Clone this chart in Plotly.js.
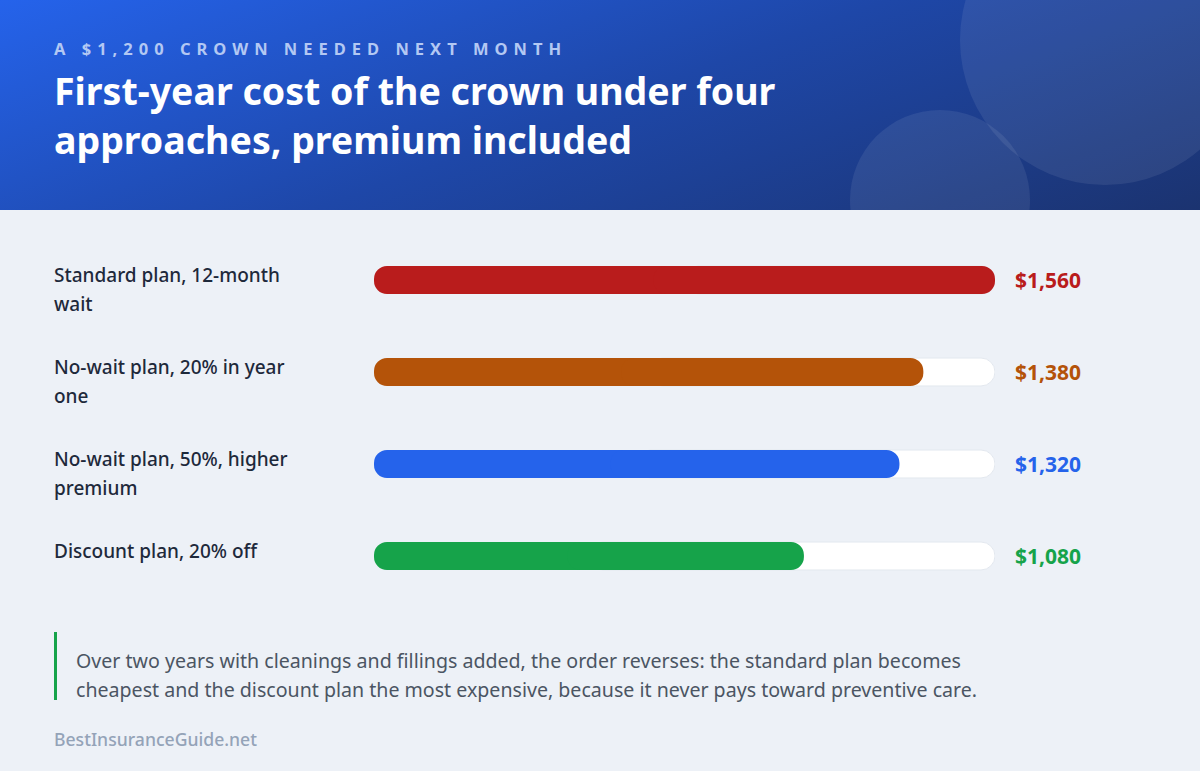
<!DOCTYPE html>
<html>
<head>
<meta charset="utf-8">
<script src="https://cdn.plot.ly/plotly-3.0.1.min.js"></script>
<style>
  html, body { margin: 0; padding: 0; }
  body { width: 1200px; height: 771px; position: relative; overflow: hidden; background: #edf1f7; font-family: "Noto Sans", sans-serif; }
  #header { position: absolute; left: 0; top: 0; width: 1200px; height: 210px; overflow: hidden;
    background: linear-gradient(160deg, #2563eb 0%, #1e47a8 50%, #1b3370 100%); }
  .circle { position: absolute; border-radius: 50%; background: rgba(255,255,255,0.08); }
  #chart { position: absolute; left: 0; top: 0; width: 1200px; height: 771px; }
</style>
</head>
<body>
<div id="header">
  <div class="circle" style="left:960px; top:-105px; width:290px; height:290px;"></div>
  <div class="circle" style="left:850px; top:110px; width:180px; height:180px;"></div>
</div>
<div id="chart"></div>
<script>
// ---- data ----
const eyebrow = "A $1,200 CROWN NEEDED NEXT MONTH";
const title = "First-year cost of the crown under four<br>approaches, premium included";
const categories = ["Standard plan, 12-month<br>wait", "No-wait plan, 20% in year<br>one", "No-wait plan, 50%, higher<br>premium", "Discount plan, 20% off"];
const values = [1560, 1380, 1320, 1080];
const colors = ["#b91c1c", "#b45309", "#2563eb", "#16a34a"];
const noteLines = ["Over two years with cleanings and fillings added, the order reverses: the standard plan becomes",
                   "cheapest and the discount plan the most expensive, because it never pays toward preventive care."];
const source = "BestInsuranceGuide.net";

// ---- geometry ----
const W = 1200, H = 771;
const M = {l: 374, r: 205, t: 234, b: 169};
const PW = W - M.l - M.r, PH = H - M.t - M.b;
const px = x => (x - M.l) / PW;
const py = y => (H - M.b - y) / PH;
const maxV = Math.max(...values);
const idx = categories.map((_, i) => i);
const font = "Noto Sans, sans-serif";
const BW = 0.304, CR = 14;

// track: visible part from bar middle to the max, right end rounded
const track = {
  type: "bar", orientation: "h", y: idx, base: values.map(v => v * 0.5), x: values.map(v => maxV - v * 0.5), width: BW,
  marker: {color: "#ffffff", line: {color: "#e3e8ef", width: 1}, cornerradius: CR},
  hoverinfo: "skip", showlegend: false
};
// value bars as two overlapping halves so both ends are rounded
const barLeft = {
  type: "bar", orientation: "h", y: idx, base: values.map(v => v * 0.55), x: values.map(v => -v * 0.55), width: BW,
  marker: {color: colors, line: {width: 0}, cornerradius: CR},
  hoverinfo: "skip", showlegend: false
};
const barRight = {
  type: "bar", orientation: "h", y: idx, base: values.map(v => v * 0.45), x: values.map(v => v * 0.55), width: BW,
  marker: {color: colors, line: {width: 0}, cornerradius: CR},
  hoverinfo: "skip", showlegend: false
};

const annotations = [];
annotations.push({xref: "paper", yref: "paper", x: px(52), y: py(49), xanchor: "left", yanchor: "middle",
  text: eyebrow, showarrow: false, font: {family: font, size: 16.5, weight: 700, color: "#b3c8f3"}});
annotations.push({xref: "paper", yref: "paper", x: px(52), y: py(114.5), xanchor: "left", yanchor: "middle",
  text: title, align: "left", showarrow: false,
  font: {family: font, size: 37.5, weight: 700, color: "#ffffff"}});
categories.forEach((c, i) => {
  c.split("<br>").forEach((line, j) => annotations.push({xref: "paper", yref: "y", x: px(52), y: i,
    xanchor: "left", yanchor: "middle", yshift: 5 - 29 * j, text: line, showarrow: false,
    font: {family: font, size: 19, weight: 500, color: "#1e293b"}}));
  annotations.push({xref: "x", yref: "y", x: maxV, y: i, xanchor: "left", yanchor: "middle", xshift: 18,
    text: "$" + values[i].toLocaleString("en-US"), showarrow: false,
    font: {family: font, size: 21, weight: 700, color: colors[i]}});
});
noteLines.forEach((t, i) => annotations.push({xref: "paper", yref: "paper", x: px(74), y: py(660 + 29.5 * i),
  xanchor: "left", yanchor: "middle", text: t, showarrow: false,
  font: {family: font, size: 19.6, weight: 400, color: "#4b5563"}}));
annotations.push({xref: "paper", yref: "paper", x: px(52), y: py(739), xanchor: "left", yanchor: "middle",
  text: source, showarrow: false, font: {family: font, size: 17.6, weight: 500, color: "#94a3b8"}});

const layout = {
  width: W, height: H, margin: M,
  paper_bgcolor: "rgba(0,0,0,0)", plot_bgcolor: "rgba(0,0,0,0)",
  barmode: "overlay", showlegend: false,
  xaxis: {range: [0, maxV], visible: false, fixedrange: true},
  yaxis: {range: [categories.length - 0.5, -0.5], visible: false, fixedrange: true},
  shapes: [{type: "rect", xref: "paper", yref: "paper", x0: px(54), x1: px(57), y0: py(632), y1: py(700),
    fillcolor: "#16a34a", line: {width: 0}}],
  annotations: annotations
};

Plotly.newPlot("chart", [track, barLeft, barRight], layout, {displayModeBar: false, staticPlot: true}).then(() => {
  const t = document.querySelectorAll("#chart .annotation-text")[0];
  if (t) {
    const before = t.getBBox().x;
    t.style.letterSpacing = "6.0px";
    const after = t.getBBox().x;
    t.setAttribute("transform", "translate(" + (before - after) + ",0)");
  }
});
</script>
</body>
</html>
